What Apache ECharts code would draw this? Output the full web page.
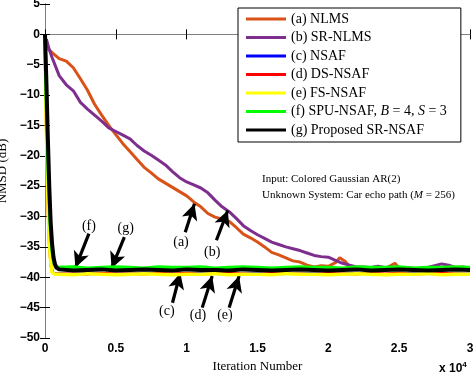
<!DOCTYPE html>
<html>
<head>
<meta charset="utf-8">
<script src="https://cdn.jsdelivr.net/npm/echarts@6.0.0/dist/echarts.min.js"></script>
<style>
html, body { margin: 0; padding: 0; background: #fff; }
#chart { width: 473px; height: 377px; }
</style>
</head>
<body>
<div id="chart"></div>
<script>
// NMSD learning curves
var names = ['(a) NLMS', '(b) SR-NLMS', '(c) NSAF', '(d) DS-NSAF', '(e) FS-NSAF',
  '(f) SPU-NSAF, B = 4, S = 3', '(g) Proposed SR-NSAF'];

var fastX = [0, 100, 200, 300, 400, 500, 600, 700, 800, 900,
  1000, 2000, 3000, 4000, 5000, 6000, 7000, 8000, 9000, 10000,
  11000, 12000, 13000, 14000, 15000, 16000, 17000, 18000, 19000, 20000,
  21000, 22000, 23000, 24000, 25000, 26000, 27000, 28000, 29000, 30000];

var nsaf = [-2, -14, -25, -32, -36.5, -38.8, -39.3, -39.4, -39.4, -39.4,
  -39.4, -39.5, -39.3, -39.4, -39.5, -39.4, -39.3, -39.4, -39.5, -39.4,
  -39.3, -39.4, -39.5, -39.4, -39.3, -39.5, -39.4, -39.4, -39.3, -39.5,
  -39.4, -39.3, -39.4, -39.5, -39.4, -39.3, -39.4, -39.5, -39.4, -39.4];
var dsNsaf = [-4, -18, -29, -35, -38, -39.2, -39.4, -39.4, -39.3, -39.4,
  -39.3, -39.4, -39.5, -39.3, -39.4, -39.4, -39.5, -39.3, -39.4, -39.3,
  -39.5, -39.4, -39.3, -39.4, -39.5, -39.3, -39.4, -39.4, -39.5, -39.3,
  -39.4, -39.5, -39.3, -39.4, -39.3, -39.5, -39.4, -39.3, -39.4, -39.5];
var fsNsaf = [-3, -16, -27, -34, -37.5, -39.2, -39.5, -39.5, -39.5, -39.5,
  -39.5, -39.6, -39.4, -39.5, -39.6, -39.5, -39.4, -39.5, -39.6, -39.5,
  -39.5, -39.4, -39.6, -39.5, -39.5, -39.6, -39.4, -39.5, -39.5, -39.6,
  -39.5, -39.4, -39.5, -39.6, -39.5, -39.5, -39.4, -39.6, -39.5, -39.5];
var spuNsaf = [-1, -11, -20, -27.5, -32.5, -35.5, -37.2, -38.0, -38.3, -38.4,
  -38.4, -38.3, -38.5, -38.4, -38.3, -38.4, -38.5, -38.3, -38.4, -38.4,
  -38.3, -38.5, -38.4, -38.3, -38.4, -38.5, -38.4, -38.3, -38.4, -38.4,
  -38.5, -38.3, -38.4, -38.4, -38.3, -38.5, -38.4, -38.4, -38.3, -38.4];
var srNsaf = [0, -8, -17, -25, -31, -34.5, -36.7, -37.8, -38.4, -38.6,
  -38.7, -38.9, -38.8, -38.7, -38.9, -38.8, -38.7, -38.8, -38.9, -38.7,
  -38.8, -38.8, -38.9, -38.7, -38.8, -38.9, -38.8, -38.7, -38.8, -38.9,
  -38.8, -38.7, -38.9, -38.8, -38.7, -38.8, -38.9, -38.8, -38.7, -38.8];

var nlmsData = [[200, -2.3], [500, -3.0], [1000, -4.0], [1500, -4.4], [2000, -5.5], [2500, -7.3],
  [3000, -9.2], [3500, -11.5], [4000, -13.3], [4500, -15.0], [5000, -16.5], [5500, -18.0],
  [6000, -19.3], [6500, -20.6], [7000, -21.9], [7500, -22.8], [8000, -23.8], [8500, -24.5],
  [9000, -25.2], [9500, -25.9], [10000, -26.6], [10500, -27.6], [11000, -28.4], [11500, -29.5],
  [12000, -30.1], [12500, -30.4], [13000, -30.8], [13500, -31.8], [14000, -32.9], [14500, -33.5],
  [15000, -34.2], [15500, -35.0], [16000, -35.9], [16500, -36.3], [17000, -36.8], [17500, -37.3],
  [18000, -37.5], [18500, -38.0], [19000, -38.3], [19500, -38.1], [20000, -38.2], [20500, -37.6],
  [20800, -36.8], [21200, -37.4], [21500, -38.3], [22000, -38.6], [22500, -38.6], [23000, -38.5],
  [23500, -38.7], [24000, -38.6], [24700, -37.7], [25000, -38.5], [25500, -38.7], [26000, -38.6],
  [26500, -38.7], [27000, -38.6], [27500, -38.7], [28000, -38.8], [28500, -38.6], [29000, -38.7],
  [29500, -38.6], [30000, -38.7]];

var srNlmsData = [[100, -0.8], [300, -2.5], [500, -3.8], [800, -5.6], [1000, -6.8], [1500, -8.3],
  [2000, -9.3], [2500, -11.2], [3000, -12.3], [3500, -13.3], [4000, -14.3], [4500, -15.4],
  [5000, -16.0], [5500, -16.6], [6000, -17.2], [6500, -18.3], [7000, -19.2], [7500, -19.9],
  [8000, -20.7], [8500, -21.5], [9000, -22.6], [9500, -23.6], [10000, -24.3], [10500, -24.8],
  [11000, -25.3], [11500, -26.1], [12000, -27.3], [12500, -28.4], [13000, -29.2], [13500, -30.3],
  [14000, -31.5], [14500, -32.3], [15000, -33.0], [15500, -33.6], [16000, -34.2], [16500, -34.6],
  [17000, -35.0], [17500, -35.3], [18000, -35.6], [18500, -36.0], [19000, -36.4], [19500, -36.6],
  [20000, -36.7], [20500, -37.2], [21000, -37.7], [21500, -38.0], [22000, -38.3], [22500, -38.3],
  [23000, -38.4], [23500, -38.2], [24000, -38.4], [24500, -38.3], [25000, -38.5], [25500, -38.4],
  [26000, -38.5], [26500, -38.6], [27000, -38.4], [27500, -38.1], [28000, -37.8], [28500, -38.0],
  [29000, -38.4], [29500, -38.3], [30000, -38.5]];

// arrows: [tailX, tailY, tipX, tipY]
var arrows = [
  [9900, -32.6, 10550, -27.9],
  [12100, -33.9, 12900, -29.0],
  [3100, -32.8, 2150, -38.4],
  [5600, -33.4, 4700, -38.5],
  [9000, -44.2, 9550, -39.3],
  [11100, -45.0, 11800, -39.8],
  [13000, -45.0, 13700, -39.8]
];
var arrowLabels = [
  [9600, -34.3, '(a)'],
  [11800, -35.9, '(b)'],
  [3100, -31.6, '(f)'],
  [5700, -32.0, '(g)'],
  [8600, -45.6, '(c)'],
  [10800, -46.2, '(d)'],
  [12700, -46.2, '(e)']
];

var colors = ['#D95319', '#7E2F8E', '#0000FF', '#FF0000', '#FFFF00', '#00FF00', '#000000'];
var widths = [3, 3, 2.5, 2.5, 3.5, 3.5, 4];

function pairs(ys) {
  return fastX.map(function (x, i) { return [x, ys[i]]; });
}

var chart = echarts.init(document.getElementById('chart'));

var seriesData = [nlmsData, srNlmsData, pairs(nsaf), pairs(dsNsaf), pairs(fsNsaf), pairs(spuNsaf), pairs(srNsaf)];
var series = names.map(function (n, i) {
  return {
    name: n,
    type: 'line',
    data: seriesData[i],
    showSymbol: false,
    symbol: 'none',
    color: colors[i],
    lineStyle: { width: widths[i], color: colors[i] },
    z: 2 + i
  };
});

series.push({
  name: 'arrows',
  type: 'line',
  data: [],
  z: 20,
  markLine: {
    silent: true,
    animation: false,
    symbol: ['none', 'arrow'],
    symbolSize: [12, 16],
    label: { show: false },
    lineStyle: { color: '#000', width: 3.2, type: 'solid', opacity: 1 },
    data: arrows.map(function (a) {
      return [{ coord: [a[0], a[1]] }, { coord: [a[2], a[3]] }];
    })
  }
});

series.push({
  name: 'notes',
  type: 'scatter',
  symbolSize: 1,
  z: 21,
  itemStyle: { opacity: 0 },
  data: arrowLabels,
  label: {
    show: true,
    position: 'inside',
    formatter: function (p) { return p.value[2]; },
    fontFamily: 'Liberation Serif',
    fontSize: 14,
    color: '#000',
    opacity: 1
  }
});

var serif = 'Liberation Serif';
var sans = 'Liberation Sans';

var option = {
  animation: false,
  backgroundColor: '#fff',
  grid: { left: 45, right: 3, top: 4, bottom: 39, outerBoundsMode: 'none', containLabel: false },
  legend: {
    data: names,
    orient: 'vertical',
    left: 238,
    top: 8,
    backgroundColor: '#fff',
    borderColor: '#000',
    borderWidth: 1,
    borderRadius: 0,
    padding: [4, 14, 5, 8],
    itemGap: 4.5,
    itemWidth: 40,
    itemHeight: 3,
    icon: 'rect',
    formatter: function (name) {
      return name.replace('B = 4', '{i|B} = 4').replace('S = 3', '{i|S} = 3');
    },
    textStyle: {
      fontFamily: serif,
      fontSize: 14,
      lineHeight: 14,
      color: '#000',
      padding: [0, 0, 0, 0],
      rich: { i: { fontFamily: serif, fontStyle: 'italic', fontSize: 14 } }
    }
  },
  xAxis: [{
    type: 'value',
    min: 0, max: 30000, interval: 5000,
    name: 'Iteration Number',
    nameLocation: 'middle',
    nameGap: 15,
    nameTextStyle: { fontFamily: serif, fontSize: 13, color: '#000' },
    axisLine: { lineStyle: { color: '#808080', width: 1 } },
    axisTick: { inside: true, length: 5, lineStyle: { color: '#000' } },
    splitLine: { show: false },
    axisLabel: {
      fontFamily: sans, fontWeight: 'bold', fontSize: 12, color: '#000', margin: 5,
      formatter: function (v) { return String(v / 10000); }
    }
  }, {
    type: 'value', position: 'top',
    min: 0, max: 30000, interval: 5000,
    axisLine: { lineStyle: { color: '#808080', width: 1 } },
    axisTick: { inside: true, length: 5, lineStyle: { color: '#000' } },
    axisLabel: { show: false },
    splitLine: { show: false }
  }],
  yAxis: [{
    type: 'value',
    min: -50, max: 5, interval: 5,
    name: 'NMSD (dB)',
    nameLocation: 'middle',
    nameGap: 25,
    nameTextStyle: { fontFamily: serif, fontSize: 13, color: '#000' },
    axisLine: { show: true, lineStyle: { color: '#808080', width: 1 } },
    axisTick: { show: true, inside: true, length: 5, lineStyle: { color: '#000' } },
    splitLine: { show: false },
    axisLabel: {
      fontFamily: sans, fontWeight: 'bold', fontSize: 12, color: '#000', margin: 5,
      formatter: function (v) { return String(v).replace('-', '\u2212'); }
    }
  }, {
    type: 'value', position: 'right',
    min: -50, max: 5, interval: 5,
    axisLine: { show: true, lineStyle: { color: '#808080', width: 1 } },
    axisTick: { show: true, inside: true, length: 5, lineStyle: { color: '#000' } },
    axisLabel: { show: false },
    splitLine: { show: false }
  }],
  graphic: [{
    type: 'text', left: 262, top: 174,
    style: {
      text: 'Input: Colored Gaussian AR(2)',
      font: '11px "Liberation Serif"', fill: '#000'
    }
  }, {
    type: 'text', left: 262, top: 190,
    style: {
      text: 'Unknown System: Car echo path ({i|M} = 256)',
      font: '11px "Liberation Serif"', fill: '#000',
      rich: { i: { fontFamily: serif, fontStyle: 'italic', fontSize: 11 } }
    }
  }, {
    type: 'text', left: 439, top: 361,
    style: {
      text: 'x 10{s|4}',
      font: 'bold 12px "Liberation Sans"', fill: '#000',
      rich: { s: { fontFamily: sans, fontWeight: 'bold', fontSize: 8, verticalAlign: 'top', padding: [0, 0, 8, 0] } }
    }
  }],
  series: series
};

chart.setOption(option);
</script>
</body>
</html>
